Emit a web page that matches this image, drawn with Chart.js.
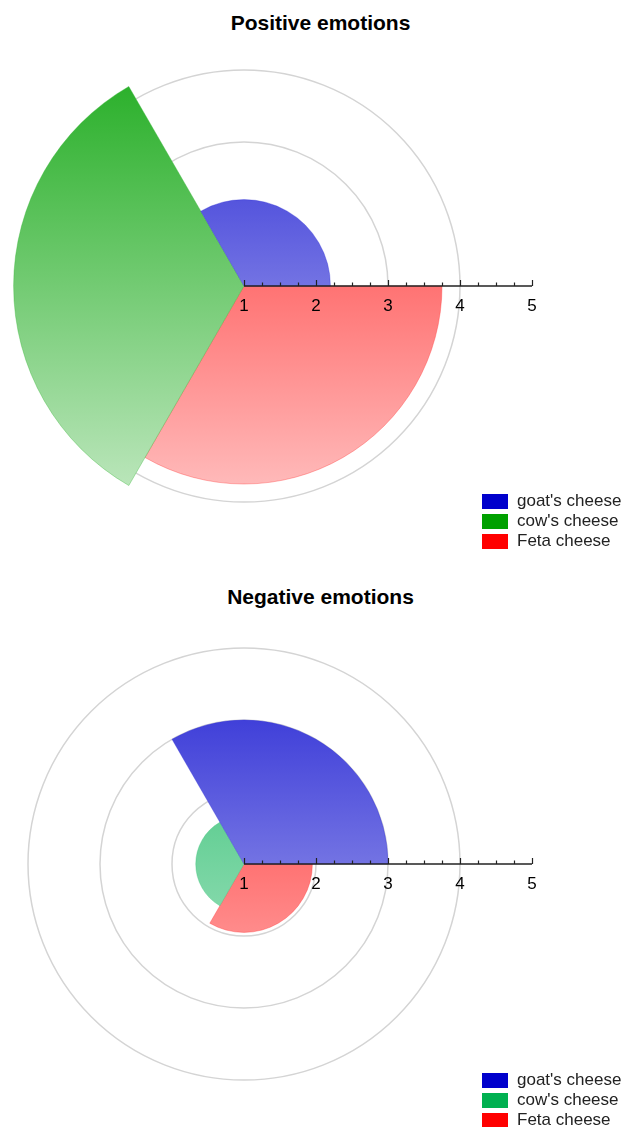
<!DOCTYPE html>
<html>
<head>
<meta charset="utf-8">
<script src="https://cdn.jsdelivr.net/npm/chart.js@4/dist/chart.umd.min.js"></script>
<style>
  html, body { margin: 0; padding: 0; background: #fff; overflow: hidden; }
  body { position: relative; width: 624px; height: 1127px; font-family: "Liberation Sans", Arial, sans-serif; }
  .title { position: absolute; left: 0; width: 641px; text-align: center; font-weight: bold; font-size: 21px; color: #000; }
  canvas { position: absolute; }
  .legend { position: absolute; left: 482px; font-size: 17px; color: #222; }
  .legend .row { height: 20px; display: flex; align-items: center; white-space: nowrap; }
  .legend .box { width: 26px; height: 15px; margin-right: 9px; flex: none; }
</style>
</head>
<body>
<div class="title" style="top: 11px;">Positive emotions</div>
<canvas id="pos" width="620" height="576" style="left:-44px; top:-2px;"></canvas>
<div class="legend" id="posLegend" style="top: 491px;"></div>

<div class="title" style="top: 585px;">Negative emotions</div>
<canvas id="neg" width="620" height="576" style="left:-44px; top:576px;"></canvas>
<div class="legend" id="negLegend" style="top: 1070px;"></div>

<script>
// Cheese categories and mean emotion scores (scale 1-5)
const categories = ["goat's cheese", "cow's cheese", "Feta cheese"];
const positiveValues = [2.2, 4.2, 3.75];
const negativeValues = [3.0, 1.67, 1.95];
const positiveColors = ['#0000cc', '#00a000', '#ff0000'];
const negativeColors = ['#0000cc', '#00b050', '#ff0000'];
const axisTicks = [1, 2, 3, 4, 5];
const scaleMin = 1;
const scaleMax = 5;

function hexToRgb(hex) {
  const n = parseInt(hex.slice(1), 16);
  return [(n >> 16) & 255, (n >> 8) & 255, n & 255];
}
function tint(hex, t, alpha) {
  const c = hexToRgb(hex).map(v => Math.round(v + (255 - v) * t));
  return alpha === undefined ? `rgb(${c[0]},${c[1]},${c[2]})` : `rgba(${c[0]},${c[1]},${c[2]},${alpha})`;
}

// Vertical gradient spanning the whole radial area, from the full colour at the top to a pale tint at the bottom
function sliceFill(cols) {
  return (ctx) => {
    const base = cols[ctx.dataIndex];
    const chart = ctx.chart;
    const s = chart.scales.r;
    if (!s || !chart.chartArea) return base;
    const R = s.drawingArea;
    const g = chart.ctx.createLinearGradient(0, s.yCenter - R, 0, s.yCenter + R);
    g.addColorStop(0, tint(base, 0.05));
    g.addColorStop(1, tint(base, 0.85));
    return g;
  };
}

// Horizontal value axis drawn from the centre to the right edge of the radial scale
const valueAxis = {
  id: 'valueAxis',
  afterDatasetsDraw(chart) {
    const s = chart.scales.r;
    const c = chart.ctx;
    const x0 = s.xCenter, y0 = s.yCenter;
    const xAt = v => x0 + s.getDistanceFromCenterForValue(v);
    c.save();
    c.strokeStyle = '#222';
    c.lineWidth = 1.6;
    c.beginPath();
    c.moveTo(xAt(scaleMin), y0);
    c.lineTo(xAt(scaleMax), y0);
    c.stroke();
    c.lineWidth = 1.2;
    for (let v = scaleMin; v <= scaleMax + 1e-9; v += 0.25) {
      const major = Math.abs(v - Math.round(v)) < 1e-9;
      const x = Math.round(xAt(v)) + 0.5;
      c.beginPath();
      c.moveTo(x, y0);
      c.lineTo(x, y0 - (major ? 6 : 3.5));
      c.stroke();
    }
    c.fillStyle = '#000';
    c.font = '17px "Liberation Sans", Arial, sans-serif';
    c.textAlign = 'center';
    c.textBaseline = 'top';
    axisTicks.forEach(v => c.fillText(String(v), xAt(v), y0 + 12));
    c.restore();
  }
};

function makeChart(id, values, colors) {
  // Slices run clockwise from 3 o'clock, so the categories are fed in reverse order
  const labels = categories.slice().reverse();
  const data = values.slice().reverse();
  const cols = colors.slice().reverse();
  return new Chart(document.getElementById(id), {
    type: 'polarArea',
    data: {
      labels: labels,
      datasets: [{
        data: data,
        backgroundColor: sliceFill(cols),
        borderColor: (ctx) => tint(cols[ctx.dataIndex], 0.2, 0.45),
        borderWidth: 0.8
      }]
    },
    options: {
      responsive: false,
      animation: false,
      devicePixelRatio: 1,
      layout: { padding: { left: 0, top: 0, bottom: 0, right: 44 } },
      plugins: { legend: { display: false }, tooltip: { enabled: false }, title: { display: false } },
      scales: {
        r: {
          min: scaleMin,
          max: scaleMax,
          startAngle: 90,
          ticks: { display: false, stepSize: 1 },
          pointLabels: { display: false },
          angleLines: { display: false },
          grid: {
            circular: true,
            lineWidth: 1.5,
            color: (ctx) => (ctx.tick && ctx.tick.value >= scaleMax) ? 'rgba(0,0,0,0)' : '#d4d4d4'
          }
        }
      }
    },
    plugins: [valueAxis]
  });
}

function makeLegend(id, colors) {
  const el = document.getElementById(id);
  categories.forEach((name, i) => {
    const row = document.createElement('div');
    row.className = 'row';
    const box = document.createElement('span');
    box.className = 'box';
    box.style.background = colors[i];
    const txt = document.createElement('span');
    txt.textContent = name;
    row.appendChild(box);
    row.appendChild(txt);
    el.appendChild(row);
  });
}

makeChart('pos', positiveValues, positiveColors);
makeChart('neg', negativeValues, negativeColors);
makeLegend('posLegend', positiveColors);
makeLegend('negLegend', negativeColors);
</script>
</body>
</html>
